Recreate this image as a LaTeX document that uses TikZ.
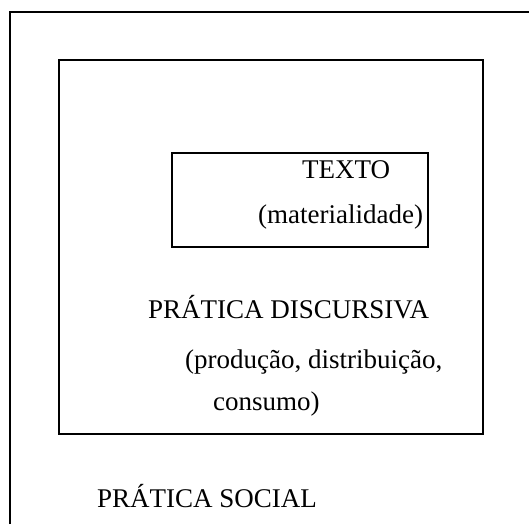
\documentclass[tikz,border=0pt]{standalone}
\usepackage{fontspec}
\setmainfont{Liberation Serif}

\begin{document}
\begin{tikzpicture}[x=1pt, y=-1pt,
    lbl/.style={anchor=base west, inner sep=0pt, font=\fontsize{27}{32}\selectfont}]
    % Fix the page size
    \useasboundingbox (0,0) rectangle (529,524);

    % Outer frame, open to the right and at the bottom
    \draw[line width=2.4pt] (10,524) -- (10,12);
    \draw[line width=1.4pt] (9,12) -- (529,12);

    % Middle and inner boxes
    \draw[line width=2.4pt] (59,60) rectangle (483,434);
    \draw[line width=2.4pt] (172,153) rectangle (428,247);

    % Add labels
    \node[lbl] (texto) at (302,178) {TEXTO};
    \node[lbl] (mat) at (258,223) {(materialidade)};
    \node[lbl] (discursiva) at (148,318) {PRÁTICA DISCURSIVA};
    \node[lbl] (prod) at (185,368) {(produção, distribuição,};
    \node[lbl] (consumo) at (213,410) {consumo)};
    \node[lbl] (social) at (97,507) {PRÁTICA SOCIAL};
\end{tikzpicture}
\end{document}
